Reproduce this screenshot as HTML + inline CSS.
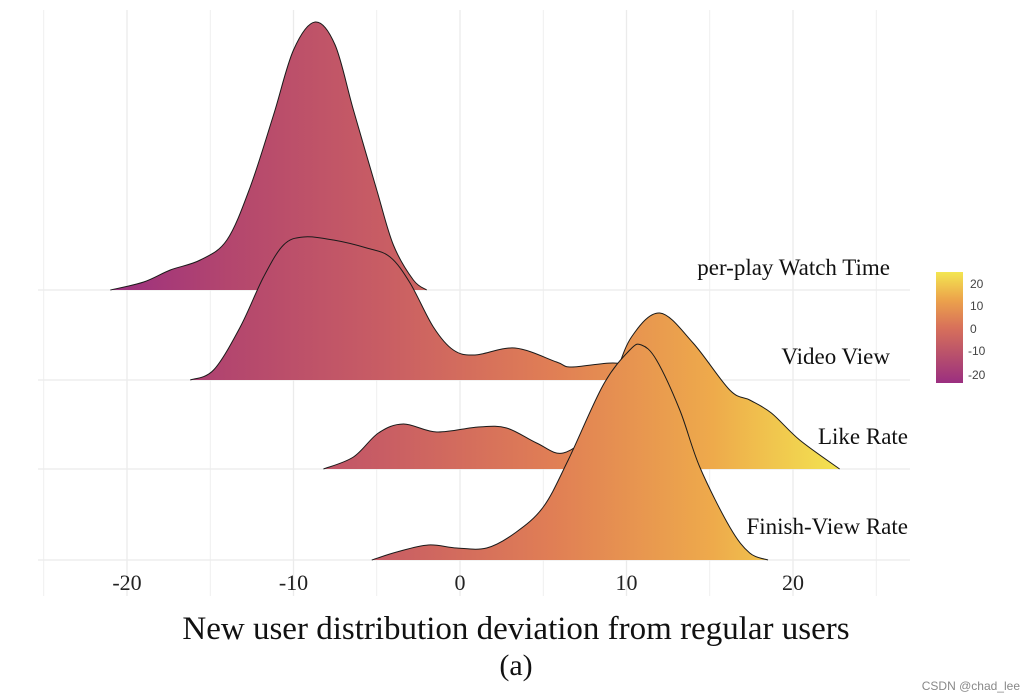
<!DOCTYPE html>
<html><head><meta charset="utf-8">
<style>
body{margin:0;background:#fff;}
svg{display:block;}
text{font-family:"Liberation Serif",serif;}
</style></head>
<body>
<svg id="chart" width="1034" height="700" viewBox="0 0 1034 700">
<defs>
<linearGradient id="fillGrad" gradientUnits="userSpaceOnUse" x1="110" y1="0" x2="845" y2="0">
<stop offset="0" stop-color="#9b2f80"/>
<stop offset="0.16" stop-color="#b3466e"/>
<stop offset="0.37" stop-color="#c85d64"/>
<stop offset="0.6" stop-color="#e07e55"/>
<stop offset="0.82" stop-color="#eeaa4b"/>
<stop offset="1" stop-color="#f3e651"/>
</linearGradient>
<linearGradient id="barGrad" x1="0" y1="1" x2="0" y2="0">
<stop offset="0" stop-color="#9b2f80"/>
<stop offset="0.25" stop-color="#b8506c"/>
<stop offset="0.5" stop-color="#d8715a"/>
<stop offset="0.75" stop-color="#eca34b"/>
<stop offset="1" stop-color="#f3e651"/>
</linearGradient>
</defs>
<g id="grid"></g>
<g id="ridges"></g>
<g id="labels"></g>
<g>
<rect x="936" y="272" width="27" height="111" fill="url(#barGrad)"/>
<g font-size="12" fill="#444">
<text x="970" y="288" style="font-family:'Liberation Sans',sans-serif">20</text>
<text x="970" y="310" style="font-family:'Liberation Sans',sans-serif">10</text>
<text x="970" y="333" style="font-family:'Liberation Sans',sans-serif">0</text>
<text x="968" y="355" style="font-family:'Liberation Sans',sans-serif">-10</text>
<text x="968" y="379" style="font-family:'Liberation Sans',sans-serif">-20</text>
</g>
</g>
<text x="516" y="639" font-size="33" text-anchor="middle" fill="#111">New user distribution deviation from regular users</text>
<text x="516" y="675" font-size="30" text-anchor="middle" fill="#111">(a)</text>
<text x="1020" y="690" font-size="12" text-anchor="end" fill="#888" style="font-family:'Liberation Sans',sans-serif">CSDN @chad_lee</text>
</svg>
<script>
const seriesNames = ["per-play Watch Time", "Video View", "Like Rate", "Finish-View Rate"];
const xTicks = [-20, -10, 0, 10, 20];
const minorTicks = [-25, -15, -5, 5, 15, 25];
const watchX = [-21, -19, -17.4, -15.6, -14, -12.6, -11.2, -10, -8.7, -7.5, -6.4, -5, -4, -2.8, -2];
const watchH = [0, 8, 20, 30, 50, 103, 175, 240, 268, 245, 180, 100, 45, 10, 0];
const viewX = [-16.2, -14.8, -13.2, -11.8, -10.6, -9.4, -7.6, -5.6, -4.2, -3, -1.6, -0.4, 0.9, 3.3, 5.8, 6.7, 9.2, 11, 13, 14];
const viewH = [0, 10, 53, 103, 135, 143, 140, 132, 123, 97, 53, 30, 25, 32, 18, 13, 17, 12, 4, 0];
const likeX = [-8.2, -6.4, -4.9, -3.4, -1.4, 1.1, 2.8, 4.6, 6.2, 8, 9.2, 10.3, 12, 14, 16.2, 17.4, 18.7, 20.4, 22.8];
const likeH = [0, 12, 36, 45, 37, 42, 41, 26, 16, 40, 88, 132, 156, 126, 79, 69, 56, 29, 0];
const finishX = [-5.3, -3.8, -1.9, -0.2, 1.6, 3.3, 5, 6.5, 8.6, 10.2, 10.9, 11.8, 13.2, 14.4, 16.2, 17.4, 18.5];
const finishH = [0, 8, 15, 12, 12, 27, 53, 100, 175, 210, 215, 200, 150, 93, 33, 7, 0];

const xs = v => 460 + 16.65 * v;
const baselines = [290, 380, 469, 560];
const NS = "http://www.w3.org/2000/svg";
const grid = document.getElementById('grid');
const ridges = document.getElementById('ridges');
const labels = document.getElementById('labels');

function line(x1,y1,x2,y2,w){
  const l=document.createElementNS(NS,'line');
  l.setAttribute('x1',x1);l.setAttribute('y1',y1);l.setAttribute('x2',x2);l.setAttribute('y2',y2);
  l.setAttribute('stroke','#ebebeb');l.setAttribute('stroke-width',w);
  return l;
}
minorTicks.forEach(t=>{const l=line(xs(t),10,xs(t),596,0.8);


grid.appendChild(l);});
xTicks.forEach(t=>{const l=line(xs(t),10,xs(t),596,1.3);


grid.appendChild(l);
const tx=document.createElementNS(NS,'text');
tx.setAttribute('x',xs(t));tx.setAttribute('y',590);tx.setAttribute('font-size','22');tx.setAttribute('text-anchor','middle');tx.setAttribute('fill','#222');
tx.textContent=t;


labels.appendChild(tx);});
baselines.forEach(b=>{const l=line(38,b,910,b,1.3);


grid.appendChild(l);});

function pathFor(X,H,base){
  const P=X.map((v,i)=>[xs(v),base-H[i]]);
  let d=`M${P[0][0]},${base} L${P[0][0]},${P[0][1]}`;
  for(let i=0;i<P.length-1;i++){
    const p0=P[Math.max(0,i-1)],p1=P[i],p2=P[i+1],p3=P[Math.min(P.length-1,i+2)];
    const c1=[p1[0]+(p2[0]-p0[0])/6,p1[1]+(p2[1]-p0[1])/6];
    const c2=[p2[0]-(p3[0]-p1[0])/6,p2[1]-(p3[1]-p1[1])/6];
    d+=` C${c1[0]},${c1[1]} ${c2[0]},${c2[1]} ${p2[0]},${p2[1]}`;
  }
  return {fill:d+` L${P[P.length-1][0]},${base} Z`, top:d.replace(/^M[^L]*L/,'M')};
}
const data=[[watchX,watchH],[viewX,viewH],[likeX,likeH],[finishX,finishH]];
const names=['ridge-watch-time','ridge-video-view','ridge-like-rate','ridge-finish-view-rate'];
data.forEach((s,i)=>{
  const p=pathFor(s[0],s[1],baselines[i]);
  const f=document.createElementNS(NS,'path');
  f.setAttribute('d',p.fill);f.setAttribute('fill','url(#fillGrad)');
  
  
  ridges.appendChild(f);
  const o=document.createElementNS(NS,'path');
  o.setAttribute('d',p.top);o.setAttribute('fill','none');o.setAttribute('stroke','#1a1a1a');o.setAttribute('stroke-width','1');
  
  
  ridges.appendChild(o);
});
const labelPos=[[890,275],[890,364],[908,444],[908,534]];
seriesNames.forEach((n,i)=>{
  const t=document.createElementNS(NS,'text');
  t.setAttribute('x',labelPos[i][0]);t.setAttribute('y',labelPos[i][1]);
  t.setAttribute('font-size','23');t.setAttribute('text-anchor','end');t.setAttribute('fill','#111');
  t.textContent=n;
  
  
  labels.appendChild(t);
});
</script>
</body></html>
